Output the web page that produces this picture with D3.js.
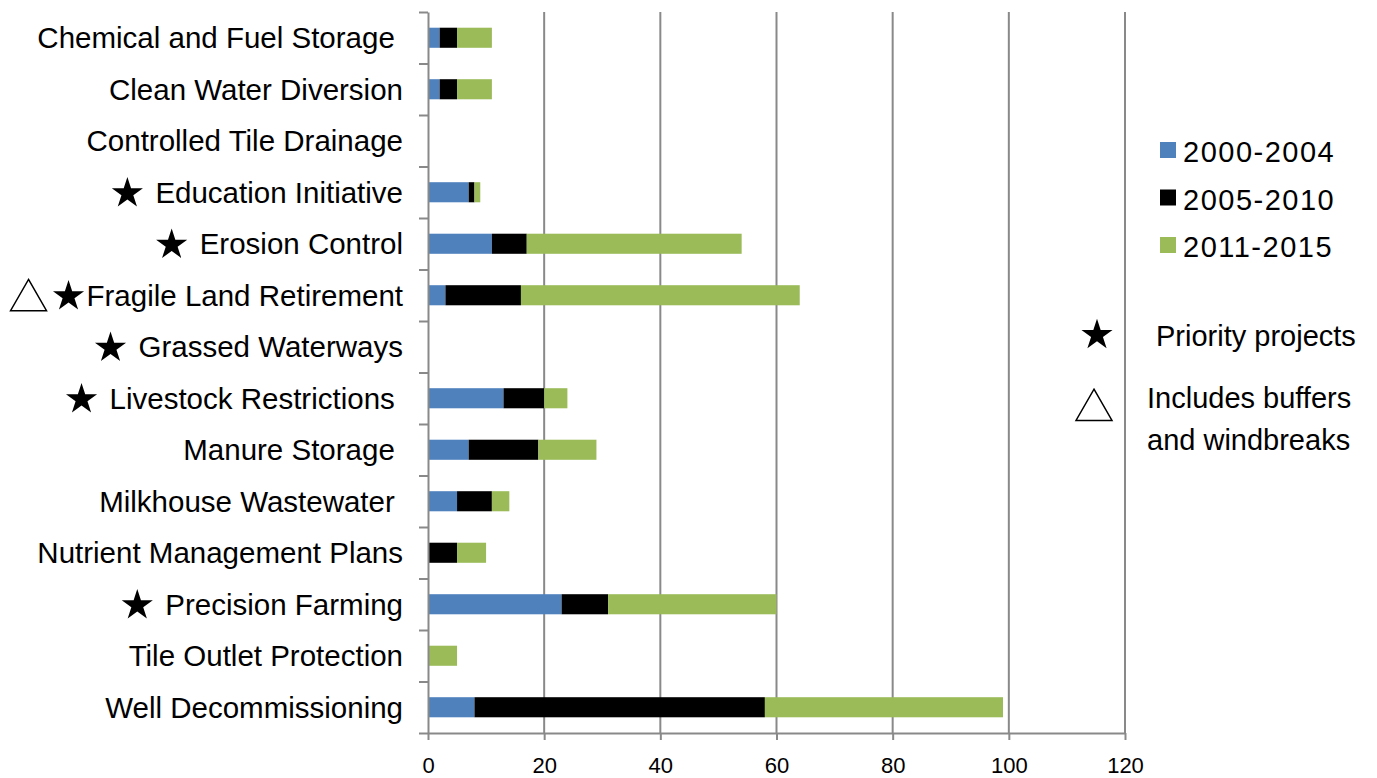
<!DOCTYPE html>
<html>
<head>
<meta charset="utf-8">
<script src="https://cdn.jsdelivr.net/npm/d3@7"></script>
<style>
  body { margin: 0; background: #fff; }
  text { font-family: "Liberation Sans", Arial, sans-serif; fill: #000; }
</style>
</head>
<body>
<script>
(function () {
  // categories (trailing spaces kept as in the original labels)
  const categories = [
    'Chemical and Fuel Storage ',
    'Clean Water Diversion',
    'Controlled Tile Drainage',
    'Education Initiative',
    'Erosion Control',
    'Fragile Land Retirement',
    'Grassed Waterways',
    'Livestock Restrictions ',
    'Manure Storage ',
    'Milkhouse Wastewater ',
    'Nutrient Management Plans',
    'Precision Farming',
    'Tile Outlet Protection',
    'Well Decommissioning'
  ]
  const series = ['2000-2004', '2005-2010', '2011-2015']
  const colors = ['#4F81BD', '#000000', '#9BBB59']

  const v2000 = [2, 2, 0, 7, 11, 3, 0, 13, 7, 5, 0, 23, 0, 8]
  const v2005 = [3, 3, 0, 1, 6, 13, 0, 7, 12, 6, 5, 8, 0, 50]
  const v2011 = [6, 6, 0, 1, 37, 48, 0, 4, 10, 3, 5, 29, 5, 41]

  const xTicks = [0, 20, 40, 60, 80, 100, 120]

  // markers next to the labels
  const priority = ['Education Initiative', 'Erosion Control', 'Fragile Land Retirement',
    'Grassed Waterways', 'Livestock Restrictions ', 'Precision Farming']
  const buffers = ['Fragile Land Retirement']

  const rows = categories.map((c, i) => ({ cat: c, vals: [v2000[i], v2005[i], v2011[i]] }))
  const stacked = d3.stack().keys([0, 1, 2]).value((d, k) => d.vals[k])(rows)

  const W = 1377, H = 778
  const left = 428, right = 1125, top = 12, bottom = 733

  const svg = d3.select('body').append('svg')
                .attr('width', W)
                .attr('height', H)

  const x = d3.scaleLinear().domain([0, 120]).range([left, right])
  const y = d3.scaleBand().domain(categories).range([top, bottom])
              .paddingInner(0.61).paddingOuter(0.305)
  const yb = d3.scaleLinear().domain([0, categories.length]).range([top, bottom])

  // gridlines
  svg.append('g').selectAll('line')
     .data(xTicks.filter(d => d > 0))
     .enter().append('line')
     .attr('x1', d => x(d)).attr('x2', d => x(d))
     .attr('y1', top).attr('y2', bottom)
     .attr('stroke', '#898989')
     .attr('stroke-width', 2)

  // bars
  svg.append('g').selectAll('g')
     .data(stacked)
     .enter().append('g')
     .attr('fill', (d, i) => colors[i])
     .selectAll('rect')
     .data(d => d)
     .enter().append('rect')
     .attr('x', d => x(d[0]))
     .attr('width', d => x(d[1]) - x(d[0]))
     .attr('y', d => y(d.data.cat))
     .attr('height', y.bandwidth())

  // y axis with ticks between bands
  const yAxis = svg.append('g')
     .attr('transform', `translate(${left},0)`)
     .call(d3.axisLeft(yb).ticks(categories.length).tickSize(9).tickSizeOuter(0).tickFormat(''))
  yAxis.selectAll('path, line').attr('stroke', '#898989').attr('stroke-width', 2)

  // x axis
  const xAxis = svg.append('g')
     .attr('transform', `translate(0,${bottom})`)
     .call(d3.axisBottom(x).tickValues(xTicks).tickSize(7).tickSizeOuter(0).tickPadding(18))
  xAxis.selectAll('path, line').attr('stroke', '#898989').attr('stroke-width', 2)
  xAxis.selectAll('text')
       .attr('font-size', 22)
       .attr('font-family', '"Liberation Sans", Arial, sans-serif')
       .attr('fill', '#000')
       .attr('dy', '0.66em')

  // category labels
  const labels = svg.append('g').selectAll('text')
     .data(categories)
     .enter().append('text')
     .attr('x', 403)
     .attr('y', d => y(d) + y.bandwidth() / 2)
     .attr('dy', '0.35em')
     .attr('text-anchor', 'end')
     .attr('font-size', 29.5)
     .style('white-space', 'pre')
     .text(d => d)

  const star = d3.symbol(d3.symbolStar, 300)
  const tri = d3.symbol(d3.symbolTriangle, 560)

  labels.each(function (d) {
    if (priority.indexOf(d) < 0) return
    const bb = this.getBBox()
    const cy = y(d) + y.bandwidth() / 2
    const solo = buffers.indexOf(d) >= 0
    const sx = bb.x - (solo ? 18 : 28)
    svg.append('path')
       .attr('d', star())
       .attr('transform', `translate(${sx},${cy + 1})`)
       .attr('fill', '#000')
    if (solo) {
      svg.append('path')
         .attr('d', tri())
         .attr('transform', `translate(${sx - 40},${cy + 5})`)
         .attr('fill', '#fff')
         .attr('stroke', '#000')
         .attr('stroke-width', 1.5)
    }
  })

  // legend
  const legend = svg.append('g')
  legend.selectAll('rect')
     .data(series)
     .enter().append('rect')
     .attr('x', 1160)
     .attr('y', (d, i) => 142 + i * 47.5)
     .attr('width', 16)
     .attr('height', 16)
     .attr('fill', (d, i) => colors[i])
  legend.selectAll('text')
     .data(series)
     .enter().append('text')
     .attr('x', 1183)
     .attr('y', (d, i) => 162 + i * 47.5)
     .attr('font-size', 29)
     .style('letter-spacing', '1.5px')
     .text(d => d)

  legend.append('path')
     .attr('d', star())
     .attr('transform', 'translate(1097,335)')
     .attr('fill', '#000')
  legend.append('text')
     .attr('x', 1156).attr('y', 346)
     .attr('font-size', 29)
     .text('Priority projects')

  legend.append('path')
     .attr('d', tri())
     .attr('transform', 'translate(1094,410)')
     .attr('fill', '#fff')
     .attr('stroke', '#000')
     .attr('stroke-width', 1.5)
  legend.append('text')
     .attr('x', 1147).attr('y', 408)
     .attr('font-size', 29)
     .text('Includes buffers')
  legend.append('text')
     .attr('x', 1147).attr('y', 450)
     .attr('font-size', 29)
     .text('and windbreaks')
})()
</script>
</body>
</html>
